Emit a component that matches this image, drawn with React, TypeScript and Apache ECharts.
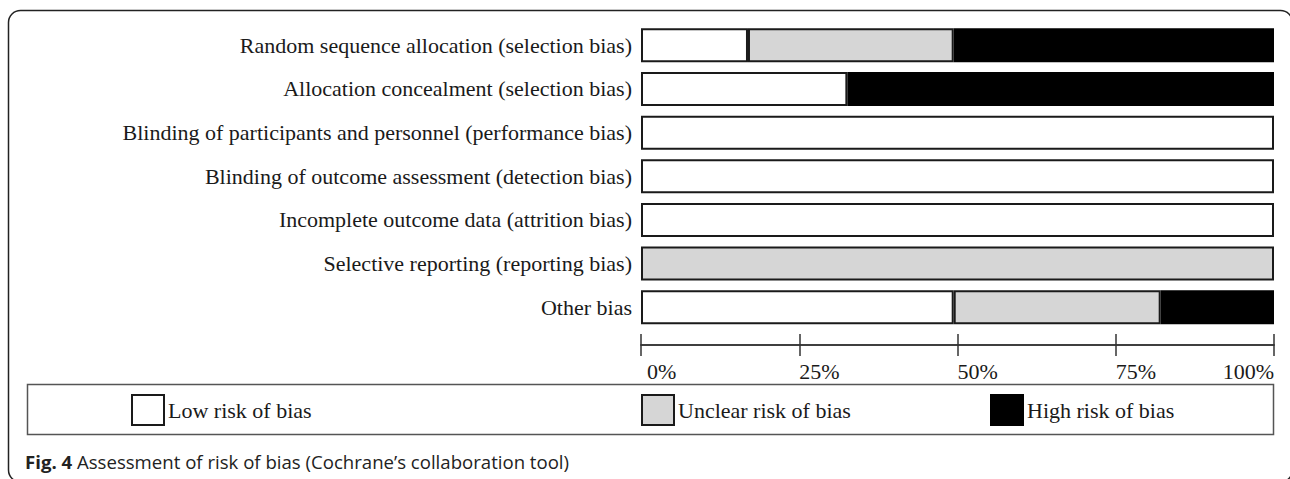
import React, { useEffect, useRef } from 'react';
import * as echarts from 'echarts';

const categories = [
  'Random sequence allocation (selection bias)',
  'Allocation concealment (selection bias)',
  'Blinding of participants and personnel (performance bias)',
  'Blinding of outcome assessment (detection bias)',
  'Incomplete outcome data (attrition bias)',
  'Selective reporting (reporting bias)',
  'Other bias',
];
const lowRisk = [16.9, 32.6, 100, 100, 100, 0, 49.4];
const unclearRisk = [32.5, 0, 0, 0, 0, 100, 32.7];
const highRisk = [50.6, 67.4, 0, 0, 0, 0, 17.9];
const tickLabels = ['0%', '25%', '50%', '75%', '100%'];
const seriesNames = ['Low risk of bias', 'Unclear risk of bias', 'High risk of bias'];
const seriesColors = ['#ffffff', '#d6d6d6', '#000000'];
const captionBold = 'Fig. 4';
const captionText = 'Assessment of risk of bias (Cochrane\u2019s collaboration tool)';

const SERIF = '"Liberation Serif", "Times New Roman", serif';
const SANS = '"Open Sans", "Noto Sans", sans-serif';

export default function App() {
  const ref = useRef<HTMLDivElement>(null);
  useEffect(() => {
    document.body.style.margin = '0';
    const chart = echarts.init(ref.current!, null, { renderer: 'svg' });
    const values = [lowRisk, unclearRisk, highRisk];
    const legendLefts = [131, 641, 990];
    chart.setOption({
      animation: false,
      backgroundColor: '#ffffff',
      grid: [
        { left: 641, right: 16, top: 23.5, height: 305.6 },
        { left: 641, right: 16, top: 345, height: 0 },
      ],
      xAxis: [
        { gridIndex: 0, type: 'value', min: 0, max: 100, show: false },
        {
          gridIndex: 1, type: 'value', min: 0, max: 100, interval: 25, position: 'top',
          axisLine: { show: true, lineStyle: { color: '#333', width: 1.5 } },
          axisTick: { show: true, inside: false, length: 11, lineStyle: { color: '#333', width: 1.5 } },
          axisLabel: { show: false }, splitLine: { show: false },
        },
        {
          gridIndex: 1, type: 'value', min: 0, max: 100, interval: 25, position: 'bottom',
          axisLine: { show: true, lineStyle: { color: '#333', width: 1.5 } },
          axisTick: { show: true, inside: false, length: 11, lineStyle: { color: '#333', width: 1.5 } },
          axisLabel: {
            show: true, margin: 15, fontFamily: SERIF, fontSize: 22, color: '#1a1a1a',
            align: 'left', alignMaxLabel: 'right',
            formatter: (_v: number, i: number) => (i === 0 ? '{p|' + tickLabels[i] + '}' : tickLabels[i]),
            rich: { p: { padding: [0, 0, 0, 6], fontFamily: SERIF, fontSize: 22, color: '#1a1a1a' } },
          },
          splitLine: { show: false },
        },
      ],
      yAxis: [
        {
          gridIndex: 0, type: 'category', data: categories, inverse: true,
          axisLine: { show: false }, axisTick: { show: false },
          axisLabel: { margin: 9, fontFamily: SERIF, fontSize: 22, color: '#1a1a1a' },
        },
        { gridIndex: 1, type: 'value', show: false },
      ],
      legend: seriesNames.map((name, i) => ({
        data: [name], left: legendLefts[i], top: 394, padding: 0, itemWidth: 32, itemHeight: 30,
        icon: 'rect', selectedMode: false,
        textStyle: { fontFamily: SERIF, fontSize: 22, color: '#1a1a1a', padding: [0, 0, 0, -1] },
      })),
      series: seriesNames.map((name, i) => ({
        name, type: 'bar', stack: 'total', xAxisIndex: 0, yAxisIndex: 0, barWidth: 34,
        data: values[i].map((v) => (v === 0 ? '-' : v)),
        itemStyle: { color: seriesColors[i], borderColor: i === 2 ? '#000' : '#1a1a1a', borderWidth: 2 },
      })),
      graphic: [
        {
          type: 'rect', shape: { x: 8.5, y: 10.5, width: 1284, height: 471.5, r: 12 },
          style: { fill: 'none', stroke: '#222', lineWidth: 1.5 }, silent: true,
        },
        {
          type: 'rect', shape: { x: 27.5, y: 384.5, width: 1246, height: 50 },
          style: { fill: 'none', stroke: '#555', lineWidth: 1.5 }, silent: true,
        },
        {
          type: 'text', x: 25, y: 461,
          style: {
            text: '{b|' + captionBold + '} ' + captionText,
            fontFamily: SANS, fontSize: 18.6, fill: '#222',
            verticalAlign: 'middle',
            rich: { b: { fontFamily: SANS, fontSize: 18.6, fontWeight: 'bold', fill: '#222' } },
          },
        },
      ],
    });
    return () => chart.dispose();
  }, []);
  return <div ref={ref} style={{ width: 1290, height: 479 }} />;
}
